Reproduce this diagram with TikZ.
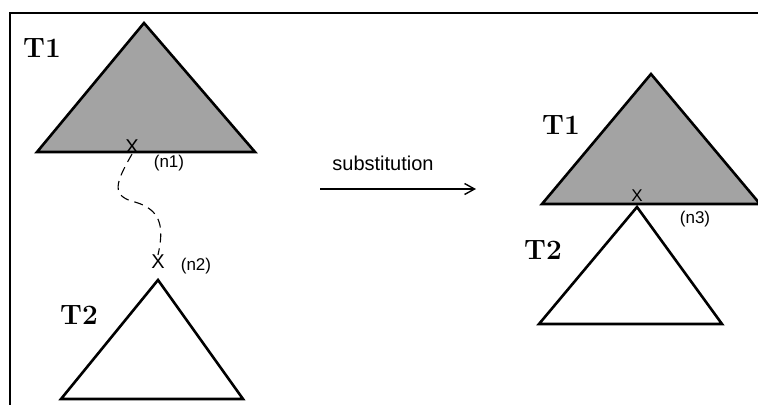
\documentclass[tikz,border=0pt]{standalone}
\usepackage{fontspec}
\usetikzlibrary{arrows.meta}
\newfontfamily\labfont{Liberation Sans}
\begin{document}
\begin{tikzpicture}[x=1pt,y=-1pt,
  tree/.style={line width=2.6pt,line join=miter},
  shaded/.style={tree,fill=black!36},
  treelabel/.style={inner sep=0pt,font=\fontsize{28}{30}\selectfont\bfseries},
  nodemark/.style={inner sep=0pt,font=\labfont\fontsize{20}{22}\selectfont},
  nodename/.style={inner sep=0pt,font=\labfont\fontsize{17}{19}\selectfont},
  frameline/.style={line width=1.8pt}]
\useasboundingbox (0,0) rectangle (758,405);
% frame
\coordinate (ftr) at (758,13);
\coordinate (ftl) at (10,13);
\coordinate (fbl) at (10,405);
\draw[frameline] (ftr) -- (ftl) -- (fbl);
% left T1
\coordinate (a1) at (144,23);
\coordinate (l1) at (37,152);
\coordinate (r1) at (255,152);
\draw[shaded] (a1) -- (l1) -- (r1) -- cycle;
\node[treelabel] (t1l) at (42,48) {T1};
\node[nodemark] (x1) at (132,147) {X};
\node[nodename] (n1) at (169,163) {(n1)};
% left T2
\coordinate (a2) at (158,280);
\coordinate (l2) at (61,399);
\coordinate (r2) at (243,399);
\draw[tree] (a2) -- (l2) -- (r2) -- cycle;
\node[treelabel] (t2l) at (79,315) {T2};
\node[nodemark] (x2) at (158,262) {X};
\node[nodename] (n2) at (196,266) {(n2)};
% dashed link
\draw[line width=1.1pt,dash pattern=on 9pt off 6pt]
  (x1.south) .. controls (116,182) and (110,196) .. (135,202)
  .. controls (162,210) and (164,228) .. (x2.north);
% arrow
\coordinate (as) at (320,189);
\coordinate (ae) at (476,189);
\draw[line width=1.4pt,-{Straight Barb[length=10pt,width=11pt,line width=1.4pt]}] (as) -- (ae);
\node[inner sep=0pt,anchor=base,font=\labfont\fontsize{20}{22}\selectfont] (sub) at (383,170) {substitution};
% right T1
\coordinate (a3) at (651,74);
\coordinate (l3) at (542,204);
\coordinate (r3) at (760,204);
\draw[shaded] (a3) -- (l3) -- (r3) -- cycle;
\node[treelabel] (t1r) at (561,125) {T1};
% right T2
\coordinate (a4) at (637,207);
\coordinate (l4) at (539,324);
\coordinate (r4) at (722,324);
\draw[tree] (a4) -- (l4) -- (r4) -- cycle;
\node[treelabel] (t2r) at (543,250) {T2};
\node[nodemark,font=\labfont\fontsize{17}{19}\selectfont] (x3) at (637,196) {X};
\node[nodename] (n3) at (695,219) {(n3)};
\end{tikzpicture}
\end{document}
